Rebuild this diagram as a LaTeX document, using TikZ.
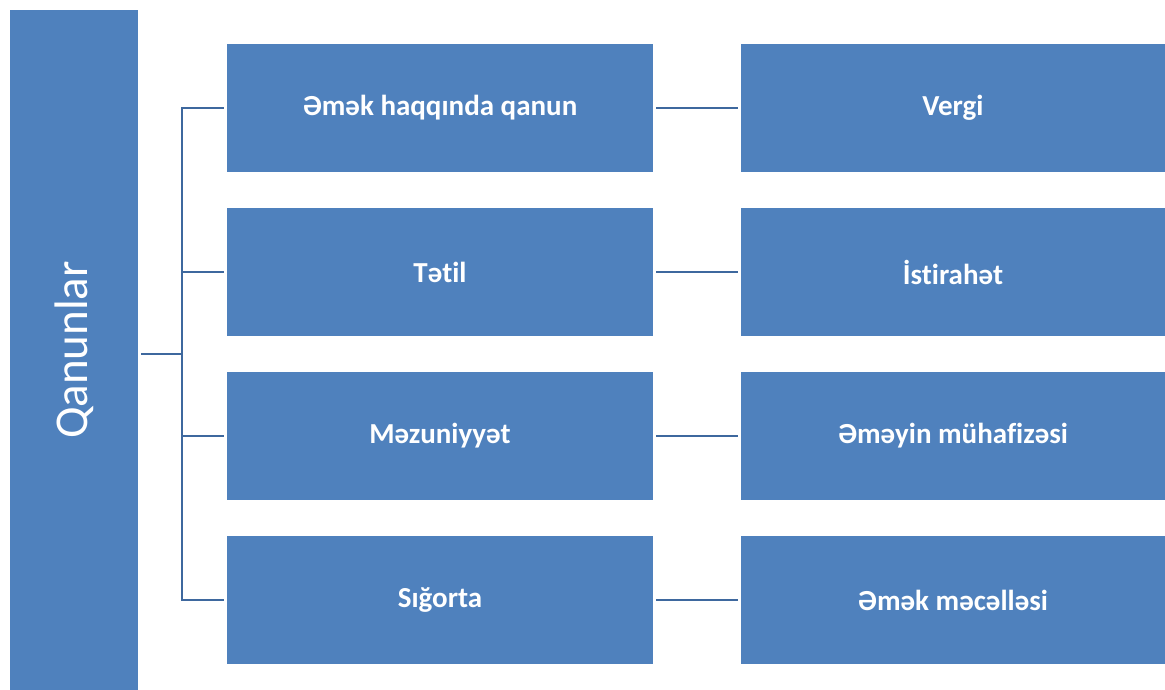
\documentclass[tikz,border=0pt]{standalone}
\usepackage{fontspec}
\setmainfont[Ligatures={NoCommon}]{Carlito}
\usepackage{tikz}
\usetikzlibrary{positioning,calc}
\definecolor{qutumavi}{RGB}{79,129,189}
\definecolor{xettmavi}{RGB}{62,104,158}
\tikzset{qutu/.style={fill=qutumavi, draw=none, text=white, font=\bfseries\fontsize{29}{34}\selectfont,
                      minimum width=426pt, minimum height=128pt, inner sep=0pt, outer sep=0pt}}
\tikzset{xett/.style={draw=xettmavi, line width=2.8pt, shorten <=3pt, shorten >=3pt}}

\begin{document}
\begin{tikzpicture}[x=1pt, y=-1pt]
            \useasboundingbox (0,0) rectangle (1165,690);
            \node[fill=qutumavi, text=white, font=\fontsize{47}{56}\selectfont, rotate=90,
                  minimum width=680pt, minimum height=128pt, inner sep=0pt] (q) at (74,350) {Qanunlar};

            \node[qutu] (l1) at (440,108) {Əmək haqqında qanun};
            \node[qutu, below = 36pt of l1] (l2) {Tətil};
            \node[qutu, below = 36pt of l2] (l3) {Məzuniyyət};
            \node[qutu, below = 36pt of l3] (l4) {Sığorta};

            \node[qutu, minimum width=424pt, right = 88pt of l1] (r1) {Vergi};
            \node[qutu, minimum width=424pt, right = 88pt of l2] (r2) {İstirahət};
            \node[qutu, minimum width=424pt, right = 88pt of l3] (r3) {Əməyin mühafizəsi};
            \node[qutu, minimum width=424pt, right = 88pt of l4] (r4) {Əmək məcəlləsi};

            \coordinate (fork) at ($(l1.west)!0.5!(l4.west) + (-45,0)$);
            \draw[xett, shorten >=0pt] (q.south |- fork) -- (fork);
            \foreach \i in {1,...,4} {
                \draw[xett, shorten <=0pt] (fork) |- (l\i.west);
                \draw[xett] (l\i.east) -- (r\i.west);
            }
        \end{tikzpicture}
\end{document}
